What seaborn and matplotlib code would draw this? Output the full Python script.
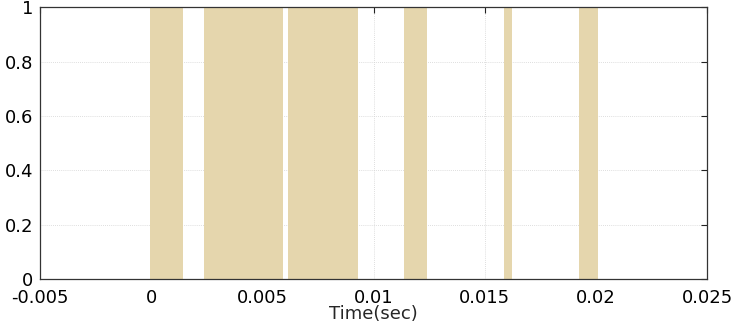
import matplotlib
matplotlib.use("Agg")
import matplotlib.pyplot as plt
import seaborn as sns
import numpy as np

# on-intervals (sec)
starts = [-0.00004, 0.00238, 0.00617, 0.01139, 0.01589, 0.01926]
ends = [0.001425, 0.00592, 0.00929, 0.0124, 0.01623, 0.02008]
levels = [1, 1, 1, 1, 1, 1]

x_ticks = [-0.005, 0, 0.005, 0.01, 0.015, 0.02, 0.025]
x_labels = ["-0.005", "0", "0.005", "0.01", "0.015", "0.02", "0.025"]
y_ticks = [0, 0.2, 0.4, 0.6, 0.8, 1]
y_labels = ["0", "0.2", "0.4", "0.6", "0.8", "1"]

sns.set_theme(style="white")
plt.rcParams["font.family"] = ["DejaVu Sans"]

fig = plt.figure(figsize=(7.37, 3.25), dpi=100)
ax = fig.add_axes([0.0543, 0.1415, 0.905, 0.8355])

widths = np.array(ends) - np.array(starts)
ax.bar(starts, levels, width=widths, align="edge", color="#E5D6AD",
       edgecolor="none", zorder=2)

ax.set_xlim(-0.005, 0.025)
ax.set_ylim(0, 1)
ax.set_xticks(x_ticks)
ax.set_xticklabels(x_labels, fontsize=13)
ax.set_yticks(y_ticks)
ax.set_yticklabels(y_labels, fontsize=13)
ax.set_xlabel("Time(sec)", fontsize=13, labelpad=-1)

ax.grid(True, linestyle=(0, (1, 1.5)), color="#d4d4d4", linewidth=0.6, zorder=0)
ax.set_axisbelow(True)
ax.tick_params(direction="in", length=4, width=0.8, color="#222222",
               top=True, right=True, pad=5, labelcolor="#000000")
ax.tick_params(axis="x", pad=7)
for s in ax.spines.values():
    s.set_color("#333333")
    s.set_linewidth(0.9)
    s.set_zorder(3)

fig.savefig("out.png", dpi=100)
